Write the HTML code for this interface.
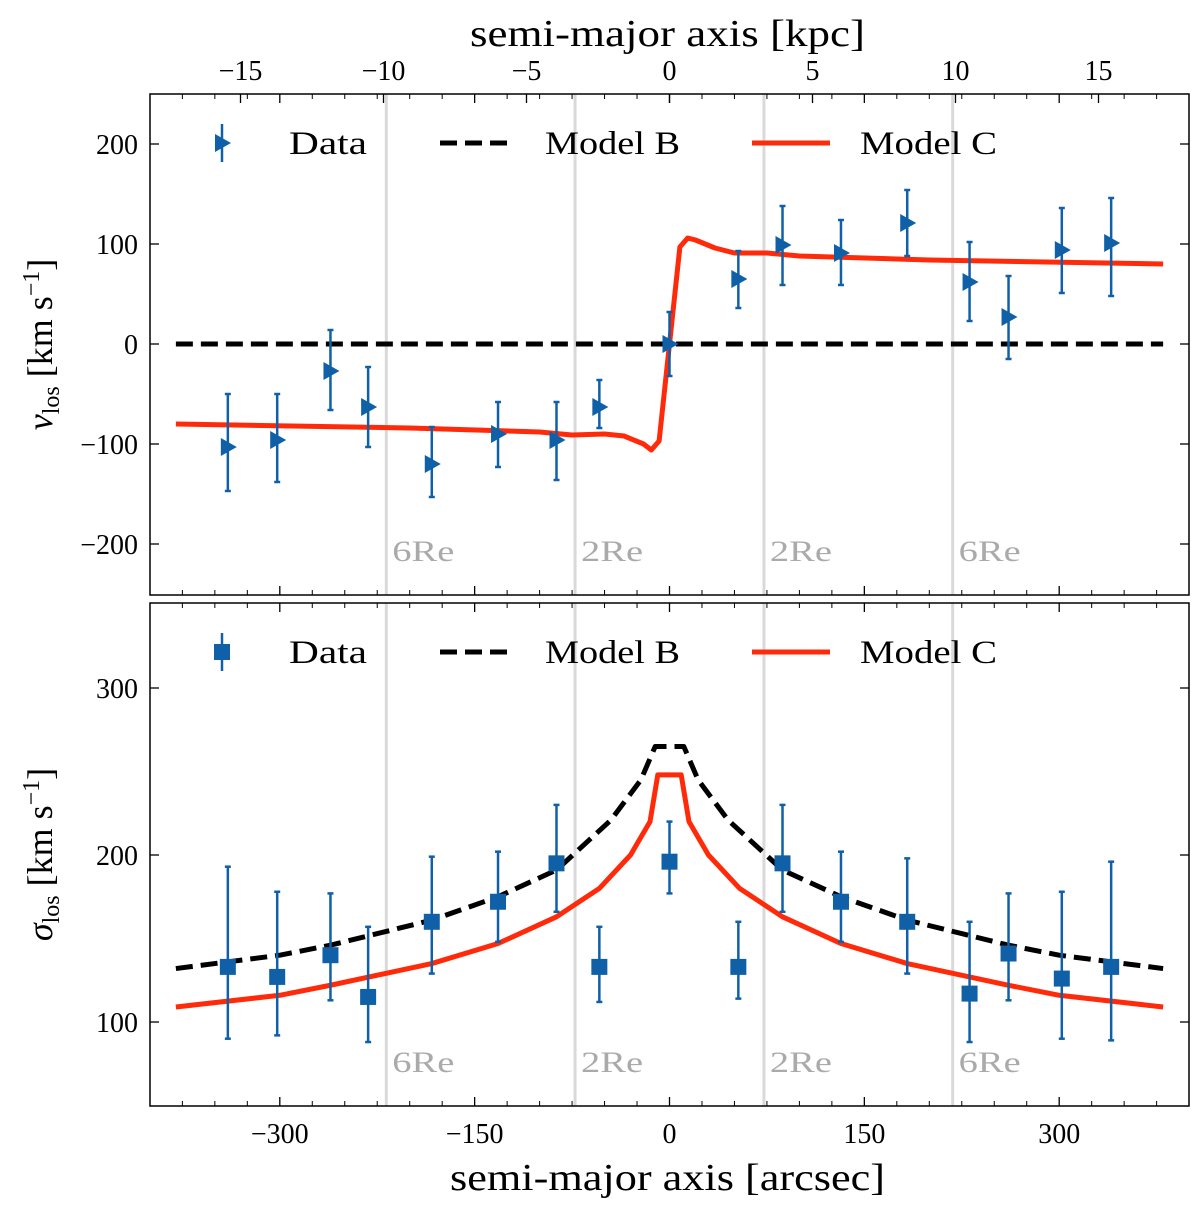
<!DOCTYPE html>
<html><head><meta charset="utf-8"><style>
body{margin:0;background:#fff}
svg{font-family:"Liberation Serif","DejaVu Serif",serif}
</style></head><body>
<svg id="c" width="1200" height="1211" viewBox="0 0 1200 1211"></svg>
<script>
const xs=[-340,-302,-261,-232,-183,-132,-87,-54,0,53,87,132,183,231,261,302,340];
const vVal=[-103,-96,-27,-63,-120,-90,-96,-63,0,65,99,91,121,62,27,94,101];
const vLo=[-147,-138,-66,-103,-153,-123,-136,-84,-32,36,59,59,88,23,-15,51,48];
const vHi=[-50,-50,14,-23,-83,-58,-58,-36,32,93,138,124,154,102,68,136,146];
const sVal=[133,127,140,115,160,172,195,133,196,133,195,172,160,117,141,126,133];
const sLo=[90,92,113,88,129,148,166,112,177,114,166,148,129,88,113,90,89];
const sHi=[193,178,177,157,199,202,230,157,220,160,230,202,198,160,177,178,196];
const cTopX=[-380,-200,-100,-75,-50,-35,-20,-14,-8,0,8,14,20,35,50,75,100,200,380];
const cTopY=[-80,-84,-88,-91,-90,-92,-100,-106,-97,0,97,106,104,96,91,91,88,84,80];
const bX=[-380,-300,-261,-183,-132,-87,-45,-22,-11,11,22,45,87,132,183,261,300,380];
const bY=[132,140,146,161,175,191,221,245,265,265,245,221,191,175,161,146,140,132];
const cX=[-380,-300,-261,-183,-132,-87,-54,-30,-15,-9,9,15,30,54,87,132,183,261,300,380];
const cY=[109,116,122,135,147,163,180,200,220,248,248,220,200,180,163,147,135,122,116,109];
const xTicks=[-300,-150,0,150,300];
const kpcTicks=[-15,-10,-5,0,5,10,15];
const vTicks=[-200,-100,0,100,200];
const sTicks=[100,200,300];
const reLines=[-218,-72.7,72.7,218];
const reLabels=["6Re","2Re","2Re","6Re"];

const S=document.getElementById('c'),NS='http://www.w3.org/2000/svg';
function el(t,a,p){const e=document.createElementNS(NS,t);for(const k in a)e.setAttribute(k,a[k]);(p||S).appendChild(e);return e;}
const L=150,R=1189;
const X=v=>669.5+v*1.299;
const kX=v=>669.5+v*28.6;
const P1={t:94,b:595,y:v=>344-v*1.0};
const P2={t:603,b:1106,y:v=>688-(v-300)*1.67};
const neg=v=>v<0?'\u2212'+(-v):''+v;

function panel(P,name,yt,vals,lo,hi,marker,models,ylab){
  const g=el('g',{});
  
  reLines.forEach((r,i)=>{
    const l=el('line',{x1:X(r),x2:X(r),y1:P.t,y2:P.b,stroke:'#d9d9d9','stroke-width':3},g);
    
    const t=el('text',{x:X(r)+6,y:P.b-34,'font-size':30,fill:'#aaa',textLength:62,lengthAdjust:'spacingAndGlyphs'},g);t.textContent=reLabels[i];
    
  });
  models.forEach(m=>{
    const d=m.x.map((x,i)=>(i?'L':'M')+X(x)+','+P.y(m.y[i])).join('');
    const p=el('path',{d,fill:'none',stroke:m.c,'stroke-width':5,'stroke-dasharray':m.dash||'none','stroke-linejoin':'round'},g);
    
  });
  xs.forEach((x,i)=>{
    const cx=X(x);
    const e=el('g',{},g);
    el('line',{x1:cx,x2:cx,y1:P.y(lo[i]),y2:P.y(hi[i]),stroke:'#1060a8','stroke-width':2.5},e);
    [lo[i],hi[i]].forEach(v=>el('line',{x1:cx-3,x2:cx+3,y1:P.y(v),y2:P.y(v),stroke:'#1060a8','stroke-width':2.5},e));
    const cy=P.y(vals[i]);
    if(marker==='tri')el('path',{d:`M${cx-7},${cy-9}L${cx+9},${cy}L${cx-7},${cy+9}Z`,fill:'#1060a8'},e);
    else el('rect',{x:cx-8,y:cy-8,width:16,height:16,fill:'#1060a8'},e);
  });
  el('rect',{x:L,y:P.t,width:R-L,height:P.b-P.t,fill:'none',stroke:'#000','stroke-width':1.5},g);
  xTicks.forEach(v=>{el('line',{x1:X(v),x2:X(v),y1:P.b,y2:P.b-9,stroke:'#000','stroke-width':1.3},g);el('line',{x1:X(v),x2:X(v),y1:P.t,y2:P.t+9,stroke:'#000','stroke-width':1.3},g);});
  for(let v=-375;v<=375;v+=25){if(v%150)[[P.b,P.b-5],[P.t,P.t+5]].forEach(a=>el('line',{x1:X(v),x2:X(v),y1:a[0],y2:a[1],stroke:'#000','stroke-width':1},g));}
  yt.forEach(v=>{const y=P.y(v);el('line',{x1:L,x2:L+9,y1:y,y2:y,stroke:'#000','stroke-width':1.3},g);el('line',{x1:R,x2:R-9,y1:y,y2:y,stroke:'#000','stroke-width':1.3},g);
    const t=el('text',{x:L-12,y:y+10,'font-size':28,'text-anchor':'end'},g);t.textContent=neg(v);
    });
  const ly=P.t+49;
  const lg=el('g',{},g);
  const cx=222;
  el('line',{x1:cx,x2:cx,y1:ly-19,y2:ly+19,stroke:'#1060a8','stroke-width':2.5},lg);
  if(marker==='tri')el('path',{d:`M${cx-7},${ly-9}L${cx+9},${ly}L${cx-7},${ly+9}Z`,fill:'#1060a8'},lg);
  else el('rect',{x:cx-8,y:ly-8,width:16,height:16,fill:'#1060a8'},lg);
  el('line',{x1:440,x2:515,y1:ly,y2:ly,stroke:'#000','stroke-width':5,'stroke-dasharray':'17,8'},lg);
  el('line',{x1:752,x2:830,y1:ly,y2:ly,stroke:'#ff2a0a','stroke-width':5},lg);
  [['Data',289,78],['Model B',545,135],['Model C',860,137]].forEach(a=>{const t=el('text',{x:a[1],y:ly+11,'font-size':33,textLength:a[2],lengthAdjust:'spacingAndGlyphs'},lg);t.textContent=a[0];});
  const yl=el('text',{transform:`translate(52,${(P.t+P.b)/2}) rotate(-90)`,'font-size':36,'text-anchor':'middle'},g);
  yl.innerHTML=ylab;
}
panel(P1,'velocity-panel',vTicks,vVal,vLo,vHi,'tri',[
 {x:[-380,380],y:[0,0],c:'#000',dash:'17,8',n:'model-b-line'},
 {x:cTopX,y:cTopY,c:'#ff2a0a',n:'model-c-line'}],
 '<tspan font-style="italic">v</tspan><tspan font-size="24" dy="7">los</tspan><tspan dy="-7"> [km s</tspan><tspan font-size="24" dy="-13">−1</tspan><tspan dy="13">]</tspan>');
panel(P2,'dispersion-panel',sTicks,sVal,sLo,sHi,'sq',[
 {x:bX,y:bY,c:'#000',dash:'17,8',n:'model-b-line'},
 {x:cX,y:cY,c:'#ff2a0a',n:'model-c-line'}],
 '<tspan font-style="italic">σ</tspan><tspan font-size="24" dy="7">los</tspan><tspan dy="-7"> [km s</tspan><tspan font-size="24" dy="-13">−1</tspan><tspan dy="13">]</tspan>');
xTicks.forEach(v=>{const t=el('text',{x:X(v),y:1143,'font-size':28,'text-anchor':'middle'});t.textContent=neg(v);
 });
kpcTicks.forEach(v=>{el('line',{x1:kX(v),x2:kX(v),y1:94,y2:103,stroke:'#000','stroke-width':1.3});
 const t=el('text',{x:kX(v),y:80,'font-size':28,'text-anchor':'middle'});t.textContent=neg(v);
 });
let t=el('text',{x:470,y:46,'font-size':38,textLength:395,lengthAdjust:'spacingAndGlyphs'});t.textContent='semi-major axis [kpc]';

t=el('text',{x:450,y:1190,'font-size':38,textLength:435,lengthAdjust:'spacingAndGlyphs'});t.textContent='semi-major axis [arcsec]';

</script>
</body></html>
